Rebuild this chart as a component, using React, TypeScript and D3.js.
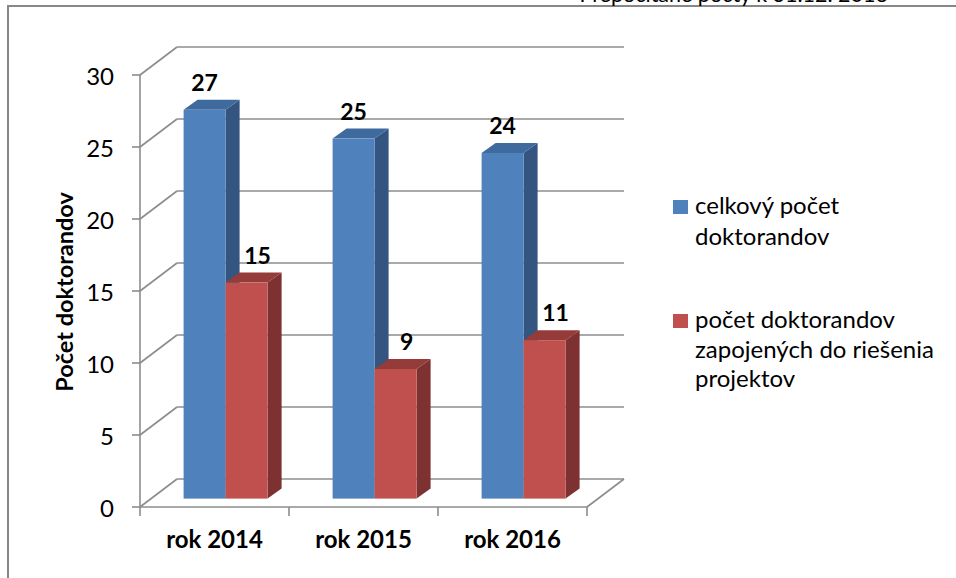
import React from 'react';
import * as d3 from 'd3';

const categories = ['rok 2014', 'rok 2015', 'rok 2016'];
const seriesNames = ['celkový počet doktorandov', 'počet doktorandov zapojených do riešenia projektov'];
const totalPhd = [27, 25, 24];
const projectPhd = [15, 9, 11];
const yTicks = [0, 5, 10, 15, 20, 25, 30];
const legendLines = [['celkový počet', 'doktorandov'], ['počet doktorandov', 'zapojených do riešenia', 'projektov']];

const W = 956;
const H = 578;
const FONT = 'Lato, "Open Sans", sans-serif';

// colours per series: front, top, side
const palette = [
  { front: '#4f81bd', top: '#3f6a9d', side: '#34557f' },
  { front: '#c0504d', top: '#953b39', side: '#7d3130' },
];

const App: React.FC = () => {
  const series = [totalPhd, projectPhd];

  // front plane of the 3D box
  const x = d3.scaleBand<string>().domain(categories).range([140, 587]);
  const y = d3.scaleLinear().domain([0, 30]).range([507, 75]);
  const depth = { dx: 37, dy: -28 };
  const frontFrac = 0.3;
  const barDepth = { dx: 14, dy: -10 };
  const inner = d3.scaleBand<number>().domain([0, 1]).range([-42, 42]);

  const gridColor = '#8c8c8c';

  const gridLines = yTicks.map(t => {
    const yf = y(t);
    const yb = yf + depth.dy;
    return (
      <g key={t}>
        <line x1={140} y1={yf} x2={140 + depth.dx} y2={yb} stroke={gridColor} strokeWidth={1.6} />
        <line x1={140 + depth.dx} y1={yb} x2={587 + depth.dx} y2={yb} stroke={gridColor} strokeWidth={1.6} />
        <line x1={132} y1={yf} x2={140} y2={yf} stroke={gridColor} strokeWidth={1.6} />
        <text x={114} y={yf + 10} textAnchor="end" fontSize={24} fontFamily={FONT} fill="#000">{t}</text>
      </g>
    );
  });

  const bars: JSX.Element[] = [];
  const labels: JSX.Element[] = [];
  categories.forEach((c, ci) => {
    series.forEach((vals, si) => {
      const v = vals[ci];
      const cx = (x(c) || 0) + x.bandwidth() / 2 + depth.dx * frontFrac;
      const x0 = cx + (inner(si) || 0);
      const x1 = x0 + inner.bandwidth();
      const yb = y(0) + depth.dy * frontFrac;
      const yt = y(v) + depth.dy * frontFrac;
      const p = palette[si];
      const { dx, dy } = barDepth;
      bars.push(
        <g key={`${ci}-${si}`}>
          <polygon points={`${x1},${yb} ${x1 + dx},${yb + dy} ${x1 + dx},${yt + dy} ${x1},${yt}`} fill={p.side} />
          <polygon points={`${x0},${yt} ${x1},${yt} ${x1 + dx},${yt + dy} ${x0 + dx},${yt + dy}`} fill={p.top} />
          <rect x={x0} y={yt} width={x1 - x0} height={yb - yt} fill={p.front} />
        </g>
      );
      labels.push(
        <text key={`l${ci}-${si}`} x={(x0 + x1) / 2 + si * 11} y={yt + dy - 9} textAnchor="middle"
          fontSize={23} fontWeight="bold" fontFamily={FONT} fill="#000">{v}</text>
      );
    });
  });

  const legendTop = [214, 328];
  const legendLineH = [31, 29.5];

  return (
    <svg width={W} height={H} style={{ position: 'absolute', left: 0, top: 0, background: '#fff' }}>
      <rect x={8} y={6} width={W + 20} height={H + 20} fill="#fff" stroke="#878787" strokeWidth={2} />
      <text x={888} y={2} textAnchor="end" fontSize={21.5} fontFamily={FONT} fill="#000">Prepočítané počty k 31.12. 2016</text>

      {gridLines}
      {/* floor */}
      <line x1={140} y1={y(0)} x2={587} y2={y(0)} stroke={gridColor} strokeWidth={1.6} />
      <line x1={587} y1={y(0)} x2={587 + depth.dx} y2={y(0) + depth.dy} stroke={gridColor} strokeWidth={1.6} />
      <line x1={140} y1={y(0)} x2={140} y2={y(30)} stroke={gridColor} strokeWidth={1.6} />
      {[...categories.map(c => x(c) || 0), 587].map((tx, i) => (
        <line key={i} x1={tx} y1={y(0)} x2={tx} y2={y(0) + 9} stroke={gridColor} strokeWidth={1.6} />
      ))}

      {bars}
      {labels}

      {categories.map(c => (
        <text key={c} x={(x(c) || 0) + x.bandwidth() / 2} y={548} textAnchor="middle" fontSize={24}
          fontWeight="bold" fontFamily={FONT} fill="#000">{c}</text>
      ))}

      <text transform="translate(73,292) rotate(-90)" textAnchor="middle" fontSize={23.5} fontWeight="bold"
        fontFamily={FONT} fill="#000">Počet doktorandov</text>

      {seriesNames.map((s, si) => (
        <g key={s}>
          <rect x={673} y={legendTop[si] - 14} width={15} height={14} fill={palette[si].front} />
          {legendLines[si].map((ln, li) => (
            <text key={li} x={695} y={legendTop[si] + li * legendLineH[si]} fontSize={24} fontFamily={FONT} fill="#000">{ln}</text>
          ))}
        </g>
      ))}
    </svg>
  );
};

export default App;
